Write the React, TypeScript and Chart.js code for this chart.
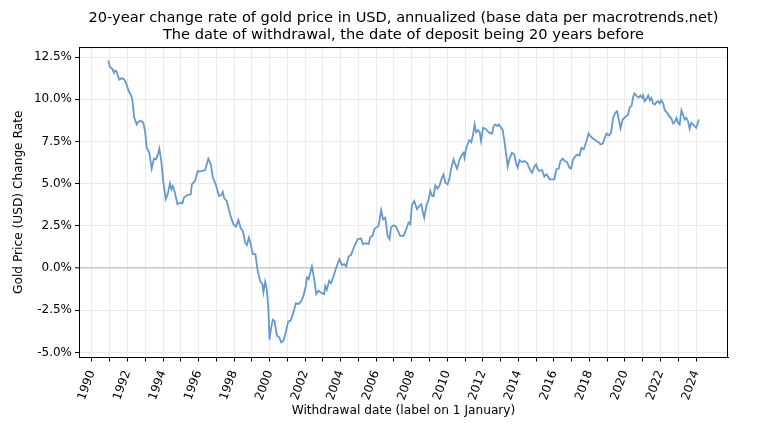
import React, { useEffect, useRef } from "react";
import { Chart, registerables } from "chart.js";

Chart.register(...registerables);

const titleLines = [
  "20-year change rate of gold price in USD, annualized (base data per macrotrends.net)",
  "The date of withdrawal, the date of deposit being 20 years before",
];
const xAxisTitle = "Withdrawal date (label on 1 January)";
const yAxisTitle = "Gold Price (USD) Change Rate";

const tickYears = [
  1990, 1991, 1992, 1993, 1994, 1995, 1996, 1997, 1998, 1999, 2000, 2001, 2002,
  2003, 2004, 2005, 2006, 2007, 2008, 2009, 2010, 2011, 2012, 2013, 2014, 2015,
  2016, 2017, 2018, 2019, 2020, 2021, 2022, 2023, 2024,
];
const yTicks = [-5, -2.5, 0, 2.5, 5, 7.5, 10, 12.5];

const dates = [
  1990.92, 1991.01, 1991.14, 1991.24, 1991.31, 1991.39, 1991.48, 1991.54, 1991.67, 1991.8,
  1991.92, 1992.05, 1992.18, 1992.27, 1992.38, 1992.52, 1992.59, 1992.74, 1992.89, 1992.99,
  1993.08, 1993.23, 1993.36, 1993.49, 1993.61, 1993.74, 1993.79, 1993.89, 1994.02, 1994.15,
  1994.26, 1994.39, 1994.47, 1994.55, 1994.66, 1994.81, 1994.96, 1995.09, 1995.18, 1995.37,
  1995.56, 1995.62, 1995.8, 1995.95, 1996.08, 1996.37, 1996.55, 1996.69, 1996.8, 1996.97,
  1997.15, 1997.27, 1997.36, 1997.45, 1997.59, 1997.77, 1997.96, 1998.11, 1998.24, 1998.38,
  1998.49, 1998.62, 1998.72, 1998.83, 1998.94, 1999.05, 1999.2, 1999.31, 1999.46, 1999.59,
  1999.65, 1999.75, 1999.84, 1999.93, 1999.99, 2000.08, 2000.18, 2000.27, 2000.41, 2000.54,
  2000.65, 2000.78, 2000.91, 2001.04, 2001.19, 2001.34, 2001.48, 2001.62, 2001.76, 2001.9,
  2002.03, 2002.1, 2002.19, 2002.38, 2002.51, 2002.62, 2002.75, 2002.94, 2003.07, 2003.13,
  2003.22, 2003.35, 2003.46, 2003.59, 2003.75, 2003.93, 2004.07, 2004.2, 2004.31, 2004.44,
  2004.58, 2004.76, 2004.95, 2005.14, 2005.25, 2005.4, 2005.57, 2005.66, 2005.81, 2005.89,
  2006.04, 2006.13, 2006.28, 2006.38, 2006.51, 2006.64, 2006.75, 2006.83, 2006.97, 2007.11,
  2007.22, 2007.35, 2007.54, 2007.69, 2007.82, 2007.92, 2008.01, 2008.14, 2008.29, 2008.44,
  2008.54, 2008.61, 2008.7, 2008.82, 2008.95, 2009.04, 2009.15, 2009.23, 2009.32, 2009.45,
  2009.57, 2009.7, 2009.79, 2009.89, 2010.02, 2010.11, 2010.21, 2010.35, 2010.45, 2010.55,
  2010.69, 2010.83, 2010.92, 2010.97, 2011.07, 2011.14, 2011.24, 2011.35, 2011.45, 2011.54,
  2011.62, 2011.73, 2011.82, 2011.9, 2012.01, 2012.14, 2012.27, 2012.38, 2012.52, 2012.61,
  2012.7, 2012.8, 2012.89, 2012.99, 2013.12, 2013.23, 2013.32, 2013.4, 2013.49, 2013.64,
  2013.77, 2013.89, 2013.96, 2014.07, 2014.2, 2014.34, 2014.49, 2014.64, 2014.77, 2014.9,
  2015.0, 2015.09, 2015.2, 2015.34, 2015.46, 2015.58, 2015.65, 2015.76, 2015.92, 2016.03,
  2016.14, 2016.27, 2016.37, 2016.5, 2016.61, 2016.74, 2016.87, 2016.97, 2017.08, 2017.21,
  2017.34, 2017.45, 2017.55, 2017.68, 2017.77, 2017.86, 2017.95, 2018.06, 2018.15, 2018.28,
  2018.39, 2018.52, 2018.62, 2018.75, 2018.85, 2018.96, 2019.09, 2019.22, 2019.33, 2019.46,
  2019.56, 2019.65, 2019.75, 2019.87, 2020.03, 2020.16, 2020.27, 2020.37, 2020.46, 2020.54,
  2020.65, 2020.78, 2020.87, 2020.97, 2021.02, 2021.11, 2021.21, 2021.31, 2021.4, 2021.49,
  2021.58, 2021.68, 2021.77, 2021.87, 2021.96, 2022.04, 2022.15, 2022.24, 2022.38, 2022.48,
  2022.62, 2022.71, 2022.8, 2022.9, 2022.99, 2023.08, 2023.18, 2023.27, 2023.36, 2023.45,
  2023.55, 2023.64, 2023.74, 2023.83, 2023.92, 2024.01, 2024.09, 2024.16,
];

const rates = [
  12.3, 11.91, 11.8, 11.56, 11.7, 11.64, 11.32, 11.16, 11.24, 11.2,
  10.97, 10.53, 10.28, 9.98, 8.9, 8.51, 8.64, 8.74, 8.61, 8.11,
  7.13, 6.83, 5.89, 6.48, 6.44, 6.83, 7.07, 6.44, 5.06, 4.08,
  4.37, 5.02, 4.67, 4.86, 4.51, 3.78, 3.88, 3.84, 4.18, 4.33,
  4.37, 4.96, 5.16, 5.75, 5.72, 5.81, 6.48, 6.14, 5.36, 4.96,
  4.27, 4.31, 4.51, 4.12, 3.98, 3.19, 2.6, 2.46, 2.85, 2.34,
  2.2, 1.52, 1.36, 1.81, 1.42, 0.83, 0.83, -0.06, -0.75, -0.95,
  -1.44, -0.81, -1.24, -2.42, -4.23, -3.56, -3.05, -3.11, -4.0, -4.09,
  -4.39, -4.29, -3.8, -3.17, -3.11, -2.62, -2.07, -2.13, -1.99, -1.64,
  -1.1, -0.55, -0.65, 0.1, -0.65, -1.54, -1.34, -1.48, -1.54, -1.05,
  -1.28, -0.75, -0.89, -0.49, 0.04, 0.53, 0.18, 0.24, 0.1, 0.69,
  0.77, 1.28, 1.71, 1.77, 1.42, 1.48, 1.42, 1.81, 1.95, 2.3,
  2.44, 2.5, 3.44, 2.89, 2.99, 1.91, 1.71, 2.4, 2.54, 2.46,
  2.2, 1.91, 1.91, 2.3, 2.7, 2.6, 3.73, 3.98, 3.5, 3.7,
  3.78, 3.38, 2.99, 3.68, 4.08, 4.57, 4.27, 4.27, 4.9, 4.71,
  4.9, 5.36, 5.55, 5.06, 4.96, 5.26, 5.85, 6.44, 6.14, 5.89,
  6.44, 6.73, 6.83, 6.54, 7.13, 7.32, 7.58, 7.46, 7.91, 8.51,
  8.05, 8.17, 8.05, 7.52, 8.31, 8.25, 8.11, 8.01, 7.97, 8.41,
  8.51, 8.41, 8.51, 8.37, 8.17, 7.42, 6.63, 6.01, 6.44, 6.83,
  6.73, 6.14, 5.95, 6.4, 6.28, 6.34, 6.24, 5.85, 5.65, 6.01,
  6.14, 5.85, 5.75, 5.81, 5.42, 5.55, 5.45, 5.26, 5.26, 5.26,
  5.85, 5.89, 6.34, 6.48, 6.34, 6.28, 5.95, 5.89, 6.44, 6.63,
  6.73, 6.67, 7.13, 7.03, 7.32, 7.62, 7.97, 7.81, 7.72, 7.62,
  7.52, 7.46, 7.32, 7.38, 7.66, 7.97, 7.86, 8.02, 8.9, 9.2,
  9.29, 8.8, 8.28, 8.8, 8.96, 9.05, 9.52, 9.61, 10.13, 10.34,
  10.2, 10.1, 10.22, 10.08, 10.22, 9.88, 10.02, 10.22, 9.94, 10.08,
  9.75, 9.69, 9.82, 9.88, 9.75, 9.94, 9.75, 9.35, 9.2, 9.0,
  8.84, 8.56, 8.64, 8.9, 8.61, 8.51, 9.35, 9.1, 8.8, 8.9,
  8.7, 8.25, 8.61, 8.51, 8.41, 8.31, 8.56, 8.8,
];

const FONT = "'DejaVu Sans', sans-serif";

const framePlugin = {
  id: "frame",
  afterDraw(chart: any) {
    const { ctx, chartArea } = chart;
    const { left, top, right, bottom } = chartArea;
    ctx.save();
    ctx.strokeStyle = "#000";
    ctx.lineWidth = 1;
    ctx.beginPath();
    ctx.moveTo(left, top + 0.5);
    ctx.lineTo(right, top + 0.5);
    ctx.moveTo(right - 0.5, top);
    ctx.lineTo(right - 0.5, bottom);
    ctx.stroke();
    ctx.restore();
  },
};

export default function App() {
  const canvasRef = useRef<HTMLCanvasElement | null>(null);

  useEffect(() => {
    const canvas = canvasRef.current;
    if (!canvas) return;
    const points = dates.map((d, i) => ({ x: d, y: rates[i] }));
    const chart = new Chart(canvas, {
      type: "line",
      data: {
        datasets: [
          {
            data: points,
            borderColor: "#6699cc",
            borderWidth: 1.8,
            pointRadius: 0,
            tension: 0,
            fill: false,
          },
        ],
      },
      options: {
        responsive: false,
        animation: false,
        devicePixelRatio: 1,
        layout: { padding: { left: 0, right: 40, top: 0, bottom: 0 } },
        plugins: {
          legend: { display: false },
          tooltip: { enabled: false },
          title: {
            display: true,
            fullSize: false,
            text: titleLines,
            color: "#000",
            font: { family: FONT, size: 14.6, weight: "normal", lineHeight: 1.2 },
            padding: { top: 9, bottom: 3 },
          },
        },
        scales: {
          x: {
            type: "linear",
            min: 1989.27,
            max: 2025.8,
            afterFit: (s: any) => {
              s.height = 74.5;
            },
            afterBuildTicks: (s: any) => {
              s.ticks = tickYears.map((v) => ({ value: v }));
            },
            ticks: {
              autoSkip: false,
              minRotation: 70,
              maxRotation: 70,
              padding: 7,
              color: "#000",
              font: { family: FONT, size: 12 },
              callback: (v: any) => (Number(v) % 2 === 0 ? String(v) : ""),
            },
            grid: {
              color: "#ebebeb",
              lineWidth: 1,
              tickColor: "#000",
              tickLength: 4,
              tickWidth: 1,
            },
            border: { color: "#000", width: 1 },
            title: {
              display: true,
              text: xAxisTitle,
              color: "#000",
              font: { family: FONT, size: 12.2 },
              padding: { top: 0, bottom: 14 },
            },
          },
          y: {
            type: "linear",
            min: -5.29,
            max: 13.09,
            afterFit: (s: any) => {
              s.width = 79;
            },
            afterBuildTicks: (s: any) => {
              s.ticks = yTicks.map((v) => ({ value: v }));
            },
            ticks: {
              padding: 3,
              color: "#000",
              font: { family: FONT, size: 12 },
              callback: (v: any) => `${Number(v).toFixed(1)}%`,
            },
            grid: {
              color: (c: any) => (c.tick && c.tick.value === 0 ? "#c8c8c8" : "#ebebeb"),
              lineWidth: (c: any) => (c.tick && c.tick.value === 0 ? 1.6 : 1),
              tickColor: "#000",
              tickLength: 4,
              tickWidth: 1,
            },
            border: { color: "#000", width: 1 },
            title: {
              display: true,
              text: yAxisTitle,
              color: "#000",
              font: { family: FONT, size: 12.2 },
              padding: { top: 12, bottom: 0 },
            },
          },
        },
      },
      plugins: [framePlugin],
    });
    return () => chart.destroy();
  }, []);

  return (
    <div style={{ position: "fixed", left: 0, top: 0, width: 768, height: 432, background: "#fff" }}>
      <canvas ref={canvasRef} width={768} height={432} />
    </div>
  );
}
